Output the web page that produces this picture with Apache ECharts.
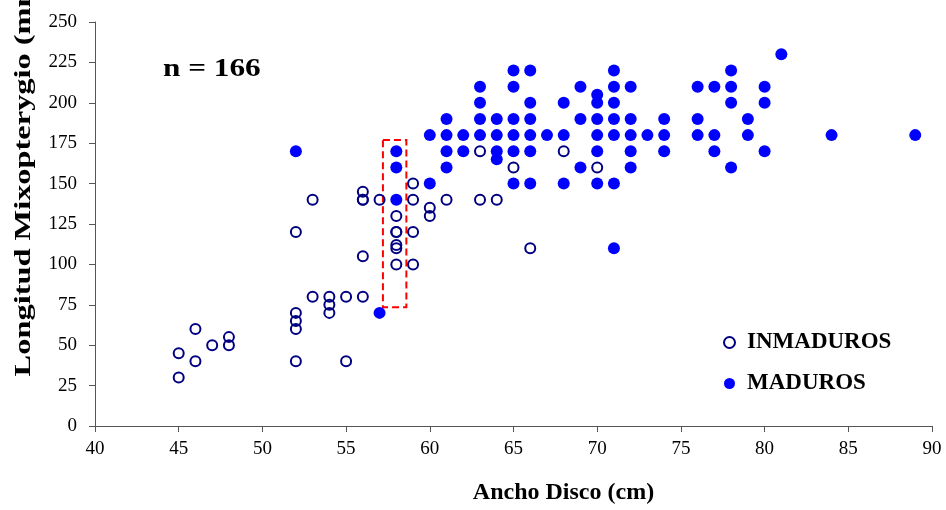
<!DOCTYPE html>
<html>
<head>
<meta charset="utf-8">
<script src="https://cdn.jsdelivr.net/npm/echarts@6/dist/echarts.min.js"></script>
<style>
html,body{margin:0;padding:0;background:#fff;}
#chart{width:946px;height:510px;}
</style>
</head>
<body>
<div id="chart"></div>
<script>
// Ancho Disco (cm), Longitud Mixopterygio (mm)
const inmaduros = [
  [45,45],[45,30],[46,60],[46,40],[47,50],[48,55],[48,50],
  [52,120],[52,70],[52,65],[52,60],[52,40],
  [53,140],[53,80],
  [54,80],[54,75],[54,70],
  [55,80],[55,40],
  [56,145],[56,140],[56,140],[56,105],[56,80],
  [57,140],
  [58,130],[58,120],[58,120],[58,112],[58,110],[58,100],
  [59,150],[59,140],[59,120],[59,100],
  [60,135],[60,130],
  [61,140],[63,170],[63,140],[64,140],[65,160],[66,110],[68,170],[70,160]
];
const maduros = [
  [52,170],[57,70],
  [58,170],[58,160],[58,140],
  [60,180],[60,150],
  [61,190],[61,180],[61,170],[61,160],
  [62,180],[62,170],
  [63,210],[63,200],[63,190],[63,180],
  [64,190],[64,180],[64,170],[64,165],
  [65,220],[65,210],[65,190],[65,180],[65,170],[65,150],
  [66,220],[66,200],[66,190],[66,180],[66,170],[66,150],
  [67,180],
  [68,200],[68,180],[68,150],
  [69,210],[69,190],[69,160],
  [70,205],[70,200],[70,190],[70,180],[70,170],[70,150],
  [71,220],[71,210],[71,200],[71,190],[71,180],[71,150],[71,110],
  [72,210],[72,190],[72,180],[72,170],[72,160],
  [73,180],
  [74,190],[74,180],[74,170],
  [76,210],[76,190],[76,180],
  [77,210],[77,180],[77,170],
  [78,220],[78,210],[78,200],[78,160],
  [79,190],[79,180],
  [80,210],[80,200],[80,170],
  [81,230],[84,180],[89,180]
];
const seriesNames = ['INMADUROS','MADUROS'];
const xTicks = {min:40, max:90, interval:5};
const yTicks = {min:0, max:250, interval:25};
// dashed highlight box: [x1, y1] to [x2, y2] in data units
const boxCorners = [[57.2,177],[58.6,73.5]];
const sampleLabel = 'n = 166';
const xTitle = 'Ancho Disco (cm)';
const yTitle = 'Longitud Mixopterygio (mm)';

const serif = "'Liberation Serif', 'Times New Roman', serif";
const chart = echarts.init(document.getElementById('chart'), null, {renderer:'canvas'});
chart.setOption({
  animation:false,
  backgroundColor:'#fff',
  grid:{left:95, right:14, top:22, bottom:81},
  xAxis:{
    type:'value', min:xTicks.min, max:xTicks.max, interval:xTicks.interval,
    axisLine:{show:true, onZero:false, lineStyle:{color:'#555', width:1}},
    axisTick:{show:true, inside:false, length:6, lineStyle:{color:'#555'}},
    splitLine:{show:false},
    axisLabel:{fontFamily:serif, fontSize:19, color:'#000', margin:14},
    name:xTitle, nameLocation:'middle', nameGap:55,
    nameTextStyle:{fontFamily:serif, fontWeight:'bold', fontSize:24, color:'#000', padding:[0,0,0,100]}
  },
  yAxis:{
    type:'value', min:yTicks.min, max:yTicks.max, interval:yTicks.interval,
    axisLine:{show:true, onZero:false, lineStyle:{color:'#555', width:1}},
    axisTick:{show:true, inside:false, length:6, lineStyle:{color:'#555'}},
    splitLine:{show:false},
    axisLabel:{fontFamily:serif, fontSize:19, color:'#000', margin:18}
  },
  legend:{
    orient:'vertical', left:723, top:331, padding:0, itemGap:18,
    itemWidth:11, itemHeight:11,
    textStyle:{fontFamily:serif, fontWeight:'bold', fontSize:23, color:'#000', padding:[0,0,0,7]},
    data:[{name:seriesNames[0], icon:'circle'},{name:seriesNames[1], icon:'circle'}]
  },
  graphic:[
    {type:'text', x:163, y:70, scaleX:1.25,
      style:{text:sampleLabel, fontFamily:serif, fontWeight:'bold', fontSize:25, fill:'#000', textAlign:'left', textVerticalAlign:'middle'}},
    {type:'text', x:24, y:173, rotation:Math.PI/2, scaleX:1.35,
      style:{text:yTitle, fontFamily:serif, fontWeight:'bold', fontSize:24, fill:'#000', textAlign:'center', textVerticalAlign:'middle'}}
  ],
  series:[
    {
      name:seriesNames[0], type:'scatter', data:inmaduros,
      symbol:'circle', symbolSize:10,
      itemStyle:{color:'rgba(255,255,255,0)', borderColor:'#000080', borderWidth:2, opacity:1},
      emphasis:{disabled:true},
      markArea:{
        silent:true,
        itemStyle:{color:'rgba(0,0,0,0)', borderColor:'#ff0000', borderWidth:2, borderType:[7,4]},
        data:[[{coord:boxCorners[0]},{coord:boxCorners[1]}]]
      }
    },
    {
      name:seriesNames[1], type:'scatter', data:maduros,
      symbol:'circle', symbolSize:12,
      itemStyle:{color:'#0000ff', opacity:1},
      emphasis:{disabled:true}
    }
  ]
});
</script>
</body>
</html>
